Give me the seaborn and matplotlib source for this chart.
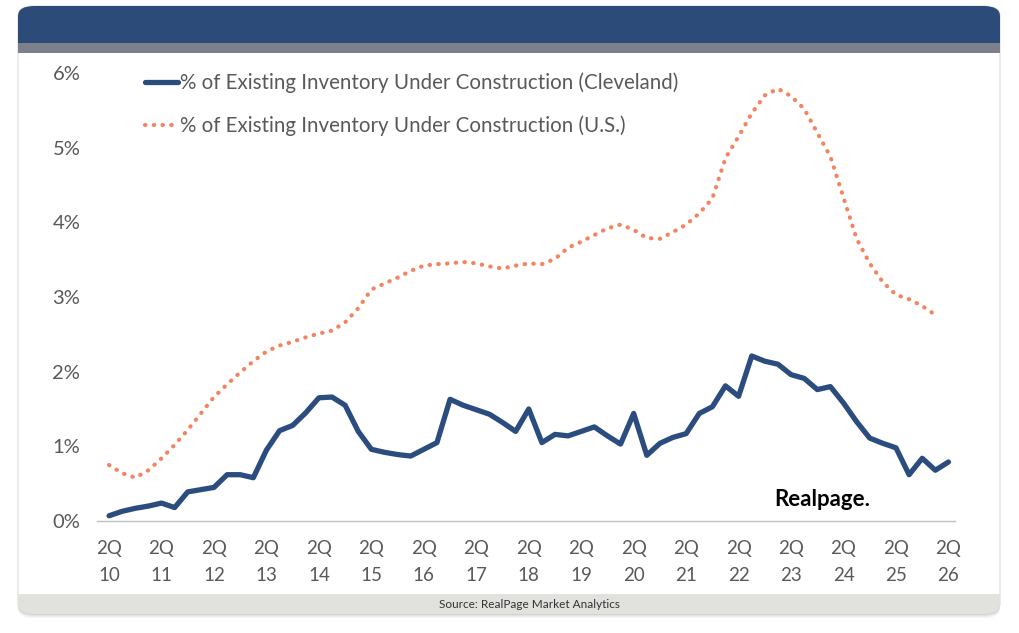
import numpy as np
import pandas as pd
import seaborn as sns
import matplotlib.pyplot as plt
from matplotlib.patches import FancyBboxPatch, Rectangle

# quarterly values, 2Q10 .. 2Q26
cleveland = [0.07, 0.13, 0.17, 0.20, 0.24, 0.18, 0.39, 0.42, 0.45, 0.62,
             0.62, 0.58, 0.95, 1.21, 1.28, 1.45, 1.65, 1.66, 1.55, 1.20,
             0.96, 0.92, 0.89, 0.87, 0.96, 1.05, 1.63, 1.55, 1.49, 1.43,
             1.32, 1.20, 1.50, 1.05, 1.16, 1.14, 1.20, 1.26, 1.14, 1.03,
             1.44, 0.88, 1.04, 1.12, 1.17, 1.44, 1.53, 1.81, 1.67, 2.21,
             2.14, 2.10, 1.96, 1.91, 1.76, 1.80, 1.58, 1.33, 1.11, 1.04,
             0.98, 0.62, 0.84, 0.68, 0.79]
us = [0.75, 0.64, 0.58, 0.68, 0.84, 1.02, 1.22, 1.44, 1.66, 1.83,
      1.99, 2.14, 2.27, 2.35, 2.40, 2.46, 2.51, 2.55, 2.66, 2.85,
      3.10, 3.18, 3.26, 3.35, 3.42, 3.44, 3.45, 3.47, 3.45, 3.41,
      3.38, 3.42, 3.45, 3.44, 3.51, 3.66, 3.74, 3.83, 3.92, 3.97,
      3.90, 3.79, 3.78, 3.87, 3.97, 4.12, 4.32, 4.86, 5.15, 5.46,
      5.70, 5.79, 5.69, 5.52, 5.20, 4.88, 4.33, 3.78, 3.45, 3.20,
      3.03, 2.97, 2.88, 2.76]
years = [f"{y:02d}" for y in range(10, 27)]
tick_labels = [f"2Q\n{y}" for y in years]
y_ticks = [0, 1, 2, 3, 4, 5, 6]

lab_cle = "% of Existing Inventory Under Construction (Cleveland)"
lab_us = "% of Existing Inventory Under Construction (U.S.)"

df = pd.DataFrame({"q": np.arange(len(cleveland)), "val": cleveland})
df_us = pd.DataFrame({"q": np.arange(len(us)), "val": us})

sns.set_style("white")
plt.rcParams['font.family'] = ['Lato', 'DejaVu Sans']

fig = plt.figure(figsize=(10.2, 6.33), dpi=100)
W, H = 1020, 633

def fx(px):
    return px / W

def fy(py):
    return 1 - py / H

# card with soft shadow
for off, a in [(4, 0.10), (2.5, 0.15), (1.2, 0.2)]:
    fig.patches.append(FancyBboxPatch((fx(18), fy(614 + off)), fx(982), (614 - 6) / H,
                                      boxstyle="round,pad=0,rounding_size=0.016",
                                      transform=fig.transFigure, fc="#9a9a9a", ec="none",
                                      alpha=a, zorder=0))
fig.patches.append(FancyBboxPatch((fx(18), fy(614)), fx(982), (614 - 6) / H,
                                  boxstyle="round,pad=0,rounding_size=0.016",
                                  transform=fig.transFigure, fc="white", ec="#d0d0d0",
                                  lw=0.6, zorder=1))
# header bar
fig.patches.append(FancyBboxPatch((fx(18), fy(43)), fx(982), (43 - 6) / H,
                                  boxstyle="round,pad=0,rounding_size=0.016",
                                  transform=fig.transFigure, fc="#2d4b79", ec="none", zorder=2))
fig.patches.append(Rectangle((fx(18), fy(43)), fx(982), 20 / H, transform=fig.transFigure,
                             fc="#2d4b79", ec="none", zorder=2))
fig.patches.append(Rectangle((fx(18), fy(53)), fx(982), 10 / H, transform=fig.transFigure,
                             fc="#7b808b", ec="none", zorder=2))
# footer bar
fig.patches.append(FancyBboxPatch((fx(18), fy(614)), fx(982), 20 / H,
                                  boxstyle="round,pad=0,rounding_size=0.016",
                                  transform=fig.transFigure, fc="#e1e1dd", ec="none", zorder=2))
fig.patches.append(Rectangle((fx(18), fy(604)), fx(982), 10 / H, transform=fig.transFigure,
                             fc="#e1e1dd", ec="none", zorder=2))
fig.text(fx(529), fy(605), "Source: RealPage Market Analytics", ha="center", va="center",
         fontsize=8.5, color="#333333", zorder=3)

ax = fig.add_axes([fx(97), fy(521), fx(955 - 97), (521 - 73) / H])
ax.set_facecolor("none")
ax.set_zorder(5)

sns.lineplot(data=df_us, x="q", y="val", ax=ax, color="#f4845f", lw=3.0,
             linestyle=(0, (0.1, 2.0)), dash_capstyle="round", label=lab_us, clip_on=False)
sns.lineplot(data=df, x="q", y="val", ax=ax, color="#2b4c7e", lw=3.8,
             solid_capstyle="round", solid_joinstyle="round", label=lab_cle, clip_on=False)

ax.set_xlim(-0.92, 64.5)
ax.set_ylim(0, 6)
ax.set_xticks(np.arange(0, len(cleveland), 4))
ax.set_xticklabels(tick_labels, fontsize=13.5, color="#595959", linespacing=1.65)
ax.set_yticks(y_ticks)
ax.set_yticklabels([f"{t}%" for t in y_ticks], fontsize=14.5, color="#595959")
ax.tick_params(axis="both", length=0)
ax.tick_params(axis="x", pad=14)
ax.tick_params(axis="y", pad=12)
ax.set_xlabel("")
ax.set_ylabel("")
for s in ["top", "left", "right"]:
    ax.spines[s].set_visible(False)
ax.spines["bottom"].set_color("#bfbfbf")
ax.spines["bottom"].set_linewidth(1.0)

handles, labels = ax.get_legend_handles_labels()
order = [labels.index(lab_cle), labels.index(lab_us)]
leg = ax.legend([handles[i] for i in order], [labels[i] for i in order],
                loc="upper left", bbox_to_anchor=((137 - 97) / 858, (521 - 64) / 448),
                frameon=False, fontsize=14.8, handlelength=1.6, handletextpad=0.1,
                labelspacing=1.12, borderaxespad=0)
for t in leg.get_texts():
    t.set_color("#595959")

fig.text(fx(774), fy(500), "Realpage.", ha="left", va="center", fontsize=16,
         fontweight="bold", color="black", zorder=6)

fig.savefig("out.png", dpi=100)
